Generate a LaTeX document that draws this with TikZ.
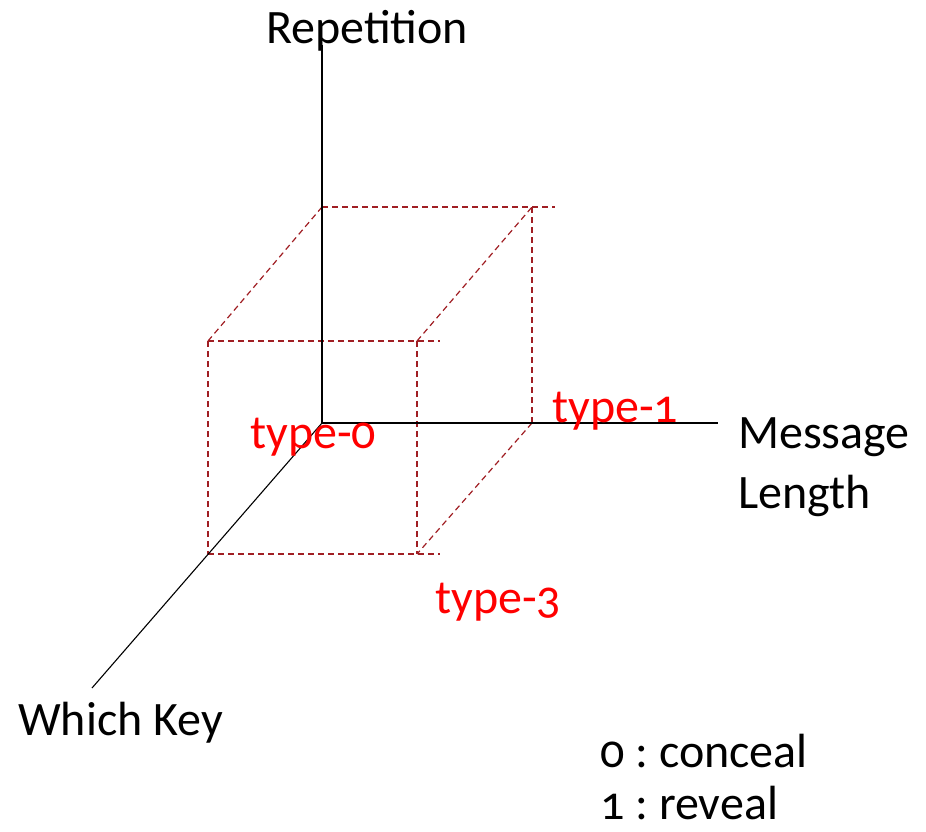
\documentclass[tikz,border=0pt]{standalone}
\usepackage{fontspec}
\setmainfont{Carlito}[Numbers=OldStyle]
\definecolor{cubered}{RGB}{160,30,35}
\frenchspacing
\begin{document}
\begin{tikzpicture}[x=1pt,y=-1pt,
  axis/.style={draw=black,line width=1.1pt},
  cubeline/.style={draw=cubered,line width=1.2pt,dash pattern=on 6pt off 4pt},
  lbl/.style={inner sep=0pt,font=\fontsize{48}{58}\selectfont,text=black},
  redlbl/.style={lbl,text=red}]
\useasboundingbox (0,0) rectangle (926,831);
% axes points
\coordinate (O) at (322,423);
\coordinate (Vtop) at (322,45);
\coordinate (Xend) at (718,423);
\coordinate (Zend) at (92,688);
% cube points
\coordinate (A) at (322,207);
\coordinate (B) at (532,207);
\coordinate (Bx) at (555,207);
\coordinate (C) at (532,423);
\coordinate (D) at (208,341);
\coordinate (E) at (417,341);
\coordinate (Ex) at (440,341);
\coordinate (F) at (208,554);
\coordinate (G) at (417,554);
\coordinate (Gx) at (440,554);
% cube
\draw[cubeline] (A) -- (Bx);
\draw[cubeline] (B) -- (C);
\draw[cubeline] (D) -- (A);
\draw[cubeline] (E) -- (B);
\draw[cubeline] (C) -- (G);
\draw[cubeline] (D) -- (Ex);
\draw[cubeline] (D) -- (F);
\draw[cubeline] (E) -- (G);
\draw[cubeline] (F) -- (Gx);
% axes
\draw[axis] (Vtop) -- (O);
\draw[axis] (O) -- (Xend);
\draw[axis] (O) -- (Zend);
% labels
\node[lbl,anchor=base] (rep) at (367,43) {Repetition};
\node[lbl,anchor=base west] (msg) at (738,448) {Message};
\node[lbl,anchor=base west] (len) at (738,508) {Length};
\node[lbl,anchor=base west] (key) at (18,735) {Which Key};
\node[redlbl,anchor=base west] (t0) at (250,448) {type-0};
\node[redlbl,anchor=base west] (t1) at (552,422) {type-1};
\node[redlbl,anchor=base west] (t3) at (435,613) {type-3};
\node[lbl,anchor=base west] (leg0) at (600,767) {0 : conceal};
\node[lbl,anchor=base west] (leg1) at (600,819) {1 : reveal};
\end{tikzpicture}
\end{document}
